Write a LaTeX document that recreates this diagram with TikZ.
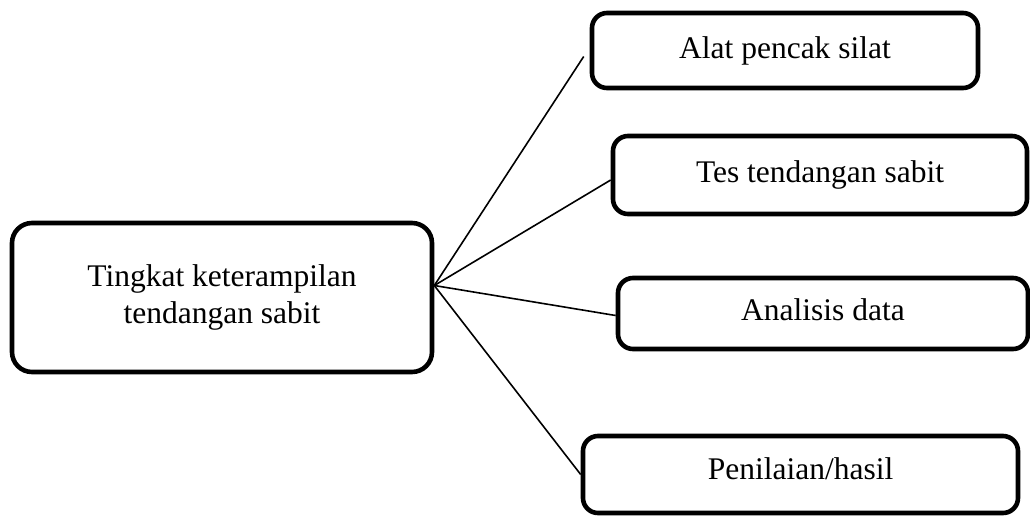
\documentclass[tikz,border=0pt]{standalone}
\usepackage{fontspec}
\setmainfont{Liberation Serif}
\usepackage{xcolor}
\usetikzlibrary{positioning}
\definecolor{ink}{HTML}{000000}
\tikzset{fig/.style={line join=round,x=0.5pt,y=-0.5pt},
  boxed/.style={draw=ink,line width=2.3pt,rounded corners=7.5pt,align=center,
    inner sep=0pt,font=\fontsize{15.75}{18.5}\selectfont},
  link/.style={draw=ink,line width=0.8pt}}
\begin{document}
\begin{tikzpicture}[fig]
  \useasboundingbox (0,0) rectangle (1030,516);
  \node[boxed,rounded corners=10pt,minimum width=210pt,minimum height=74.5pt](skill)at(222,297.5){Tingkat keterampilan\\tendangan sabit};
  \node[boxed,minimum width=193pt,minimum height=37.5pt](alat)at(785,50.5){Alat pencak silat};
  \node[boxed,minimum width=207pt,minimum height=39pt](tes)at(820,175){Tes tendangan sabit};
  \node[boxed,minimum width=205pt,minimum height=35.5pt,text depth=4pt](data)at(823,313.5){Analisis data};
  \node[boxed,minimum width=217.5pt,minimum height=38.5pt,text depth=6pt](hasil)at(800.5,474.5){Penilaian/hasil};
  \coordinate(hub)at([yshift=6pt]skill.east);
  \draw[link](hub)--([xshift=-3pt,yshift=-3pt]alat.west);
  \draw[link](hub)--([yshift=-2.5pt]tes.west);
  \draw[link](hub)--([yshift=-1pt]data.west);
  \draw[link](hub)--(hasil.west);
\end{tikzpicture}
\end{document}
